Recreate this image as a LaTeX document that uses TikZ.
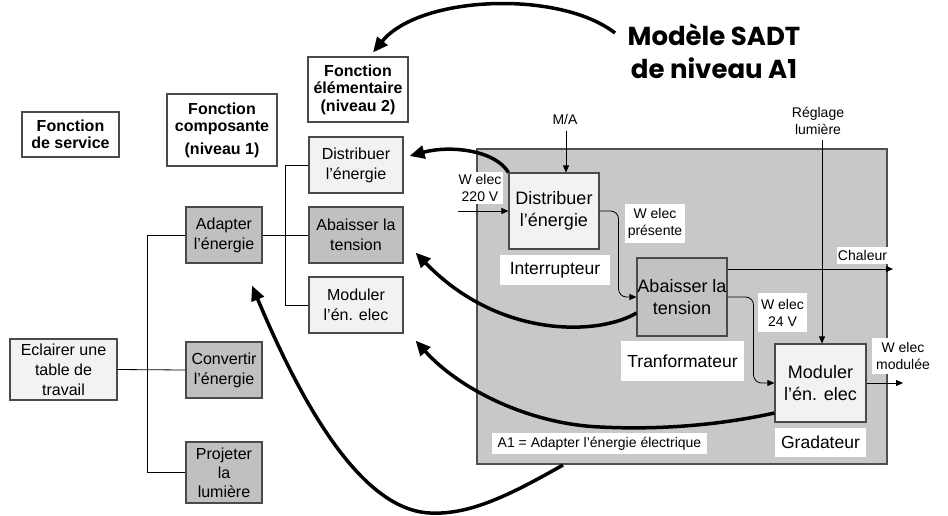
\documentclass[tikz,border=0pt]{standalone}
\usepackage{fontspec}
\setmainfont{Liberation Sans}
\newfontfamily\handfont{Poppins}
\usetikzlibrary{arrows.meta,calc}
\definecolor{boxline}{HTML}{4A4A4A}
\definecolor{bigline}{HTML}{505050}
\definecolor{lightfill}{HTML}{F2F2F2}
\definecolor{darkfill}{HTML}{C0C0C0}
\definecolor{bigfill}{HTML}{C8C8C8}
\definecolor{abfill}{HTML}{C2C2C2}
\begin{document}
\begin{tikzpicture}[x=1pt,y=-1pt,
  basebox/.style={draw=boxline,line width=1.1pt,align=center,inner sep=0pt,
    font=\fontsize{16}{20}\selectfont},
  head/.style={basebox,fill=white,font=\bfseries\fontsize{16}{17.5}\selectfont},
  lightbox/.style={basebox,fill=lightfill},
  darkbox/.style={basebox,fill=darkfill},
  innerbox/.style={basebox,font=\fontsize{18}{22}\selectfont},
  lab/.style={fill=white,inner sep=0pt,align=center,font=\fontsize{14}{17}\selectfont},
  biglab/.style={fill=white,inner sep=0pt,align=center,font=\fontsize{17.5}{21}\selectfont},
  tree/.style={line width=0.8pt,black},
  flow/.style={line width=0.8pt,-{Triangle[length=7pt,width=6pt]}},
  bigarrow/.style={line width=3.5pt,-{Triangle[length=15pt,width=13pt]}}
]
\useasboundingbox (0,0) rectangle (948,515);

% column headers
\node[head,minimum width=97pt,minimum height=45pt] (serv) at (70.5,134.5) {Fonction\\de service};
\node[head,minimum width=110pt,minimum height=72pt] (comp) at (222,130) {Fonction\\composante\\[5pt](niveau 1)};
\node[head,minimum width=100pt,minimum height=65pt] (elem) at (358,89.5) {Fonction\\élémentaire\\(niveau 2)};

% service function and level 1
\node[lightbox,minimum width=107pt,minimum height=61pt] (ecl) at (63.5,369.5) {Eclairer une\\table de\\travail};
\node[darkbox,minimum width=76pt,minimum height=56pt] (adapt) at (224,235) {Adapter\\l'énergie};
\node[darkbox,minimum width=76pt,minimum height=56pt] (conv) at (224,370) {Convertir\\l'énergie};
\node[darkbox,minimum width=76pt,minimum height=61pt,font=\fontsize{16}{19}\selectfont] (proj) at (224,472.5) {Projeter\\la\\lumière};

% level 2
\node[lightbox,minimum width=94pt,minimum height=56pt] (d2) at (356,165) {Distribuer\\l'énergie};
\node[darkbox,minimum width=94pt,minimum height=56pt] (a2) at (356,235) {Abaisser la\\tension};
\node[lightbox,minimum width=94pt,minimum height=56pt] (m2) at (356,305) {Moduler\\l'én. elec};

% tree connections
\draw[tree] (ecl.east) -- (conv.west);
\draw[tree] (adapt.west) -- ++(-38,0) |- (proj.west);
\draw[tree] (adapt.east) -- (a2.west);
\draw[tree] (d2.west) -- ++(-23,0) |- (m2.west);

% SADT A1 diagram
\node[draw=bigline,line width=1.5pt,fill=bigfill,minimum width=410pt,minimum height=315pt,inner sep=0pt] (big) at (682,306.5) {};

\node[innerbox,fill=lightfill,minimum width=90pt,minimum height=76pt] (di) at (554,211) {Distribuer\\l'énergie};
\node[innerbox,fill=abfill,minimum width=90pt,minimum height=78pt] (ab) at (682,297) {Abaisser la\\tension};
\node[innerbox,fill=lightfill,minimum width=91pt,minimum height=78pt] (mo) at (820.5,383) {Moduler\\l'én. elec};

\node[lab,minimum width=46pt,minimum height=32pt] (win) at (480,188) {W elec\\220 V};
\node[lab,minimum width=60pt,minimum height=39pt] (wpres) at (655,223.5) {W elec\\présente};
\node[biglab,minimum width=110pt,minimum height=30pt] (inter) at (555,270) {Interrupteur};
\node[lab,minimum width=49pt,minimum height=39pt] (w24) at (782.5,312.5) {W elec\\24 V};
\node[biglab,minimum width=123pt,minimum height=40pt] (tranf) at (682.5,361) {Tranformateur};
\node[biglab,minimum width=91pt,minimum height=29pt] (grad) at (820.5,442.5) {Gradateur};
\node[lab,minimum width=215pt,minimum height=21pt] (a1) at (599.5,443.5) {A1 = Adapter l'énergie électrique};
\node[lab,minimum width=51pt,minimum height=17pt] (chal) at (862.5,255) {Chaleur};
\node[lab,minimum width=62pt,minimum height=36pt] (wmod) at (903,355.5) {W elec\\modulée};
\node[lab,fill=none] (regl) at (818,121) {Réglage\\lumière};
\node[lab,fill=none] (ma) at (565,119) {M/A};

\coordinate (maTop) at (566,131);
\coordinate (reglTop) at (822,140);
\coordinate (inL) at (458,211);
\coordinate (chalEnd) at (893,269);
\coordinate (modEnd) at (903,383);

\draw[flow] (maTop) -- (maTop |- di.north);
\draw[flow] (reglTop) -- (reglTop |- mo.north);
\draw[flow] (inL) -- (di.west);
\draw[flow,rounded corners=8pt] (di.east) -- ++(19,0) |- (ab.west);
\draw[flow,rounded corners=8pt] (ab.east) -- ++(26,0) |- (mo.west);
\draw[flow] ($(ab.east)+(0,-28)$) -- (chalEnd);
\draw[flow] (mo.east) -- (modEnd);

% title and references between the views
\node[font=\handfont\bfseries\fontsize{26}{33}\selectfont,align=center] (sadt) at (714,51) {Modèle SADT\\de niveau A1};
\coordinate (sadtStart) at (615,33);
\coordinate (bigBottom) at (563,465);

\draw[bigarrow] (sadtStart) .. controls (560,-10) and (420,-5) .. ($(elem.north)+(15,-4)$);
\draw[bigarrow] (di.north west) .. controls (495,150) and (450,145) .. ($(d2.east)+(6,-9)$);
\draw[bigarrow] ($(ab.west)+(0,16)$) .. controls (600,335) and (500,340) .. ($(a2.south east)+(12,-11)$);
\draw[bigarrow] ($(mo.west)+(0,30)$) .. controls (720,425) and (660,430) .. (600,427)
  .. controls (530,424) and (460,390) .. ($(m2.south east)+(12,7)$);
\draw[bigarrow] (bigBottom) .. controls (510,495) and (470,515) .. (430,513)
  .. controls (360,510) and (300,400) .. ($(adapt.south)+(28,22)$);
\end{tikzpicture}
\end{document}
